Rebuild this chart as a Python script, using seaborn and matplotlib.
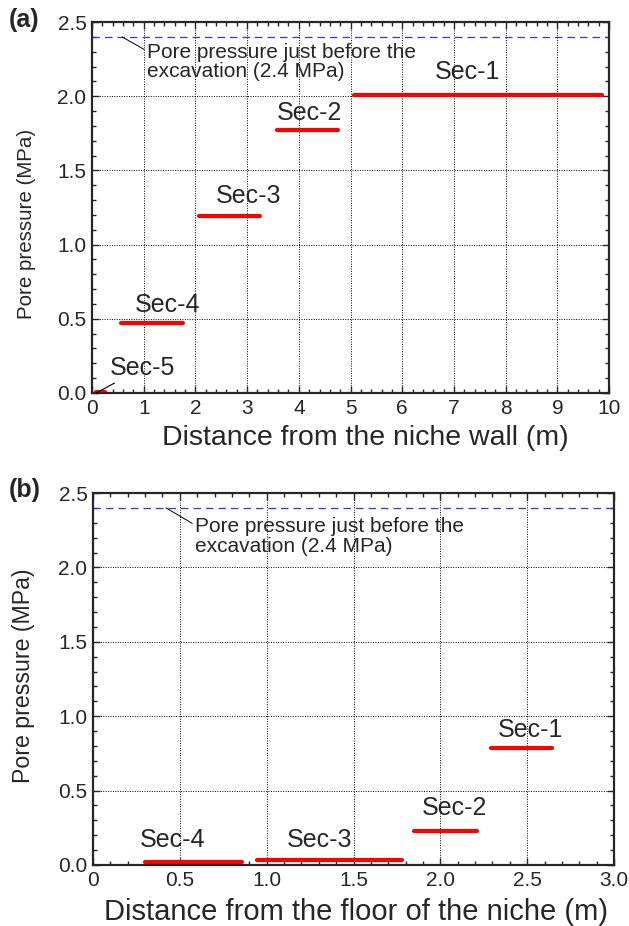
import numpy as np
import pandas as pd
import seaborn as sns
import matplotlib.pyplot as plt
from matplotlib.ticker import MultipleLocator

# Panel (a): distance from the niche wall
a_secs = ["Sec-1", "Sec-2", "Sec-3", "Sec-4", "Sec-5"]
a_start = [5.07, 3.58, 2.06, 0.56, 0.07]
a_end = [9.86, 4.76, 3.25, 1.75, 0.25]
a_press = [2.01, 1.77, 1.195, 0.47, 0.005]

# Panel (b): distance from the floor of the niche
b_secs = ["Sec-1", "Sec-2", "Sec-3", "Sec-4"]
b_start = [2.29, 1.85, 0.946, 0.30]
b_end = [2.645, 2.21, 1.78, 0.86]
b_press = [0.784, 0.229, 0.033, 0.018]

a_xticks = [0, 1, 2, 3, 4, 5, 6, 7, 8, 9, 10]
b_xticks = [0, 0.5, 1.0, 1.5, 2.0, 2.5, 3.0]
b_xlabels = ["0", "0.5", "1.0", "1.5", "2.0", "2.5", "3.0"]
y_ticks = [0, 0.5, 1.0, 1.5, 2.0, 2.5]

INITIAL_P = 2.4
NOTE = "Pore pressure just before the\nexcavation (2.4 MPa)"

sns.set_style("ticks")
plt.rcParams['font.family'] = ['Liberation Sans', 'DejaVu Sans']

TICK_FS = 15
SEC_FS = 18
NOTE_FS = 15


def seg_frame(secs, start, end, press):
    rows = []
    for s, x0, x1, p in zip(secs, start, end, press):
        rows.append({"sec": s, "x": x0, "p": p})
        rows.append({"sec": s, "x": x1, "p": p})
    return pd.DataFrame(rows)


def style_axes(ax, xmax, xticks, xlabels, xminor):
    ax.set_xlim(0, xmax)
    ax.set_ylim(0, 2.5)
    ax.set_xticks(xticks)
    ax.set_xticklabels(xlabels)
    ax.set_yticks(y_ticks)
    ax.set_yticklabels([f"{v:.1f}" for v in y_ticks])
    ax.xaxis.set_minor_locator(MultipleLocator(xminor))
    ax.yaxis.set_minor_locator(MultipleLocator(0.1))
    ax.tick_params(which='both', direction='in', top=True, right=True,
                   labelsize=TICK_FS, width=1.0)
    ax.tick_params(which='major', length=5, pad=4)
    ax.tick_params(which='minor', length=3)
    ax.grid(True, which='major', linestyle=(0, (1, 1.5)), color='k', linewidth=0.7)
    for sp in ax.spines.values():
        sp.set_linewidth(1.6)
        sp.set_visible(True)


def place_labels(ax, xlabel, xfs, xpos, ylabel_fs, ypos):
    ax.set_xlabel(xlabel, fontsize=xfs)
    ax.xaxis.set_label_coords(*xpos)
    ax.xaxis.label.set_verticalalignment('center')
    ax.set_ylabel("Pore pressure (MPa)", fontsize=ylabel_fs)
    ax.yaxis.set_label_coords(*ypos)
    ax.yaxis.label.set_verticalalignment('center')


fig = plt.figure(figsize=(6.29, 9.26), dpi=100)
ax_a = fig.add_axes([0.1463, 0.5756, 0.822, 0.4006])
ax_b = fig.add_axes([0.1479, 0.0659, 0.8283, 0.4017])

# ---- panel (a)
df_a = seg_frame(a_secs, a_start, a_end, a_press)
sns.lineplot(data=df_a, x="x", y="p", units="sec", estimator=None,
             color="#ff0000", linewidth=3, ax=ax_a, legend=False)
ax_a.axhline(INITIAL_P, color="#3333ff", linestyle=(0, (6, 4)), linewidth=0.9)
style_axes(ax_a, 10, a_xticks, [str(v) for v in a_xticks], 0.2)
place_labels(ax_a, "Distance from the niche wall (m)", 20.5, (0.528, -0.121),
             14.8, (-0.126, 0.457))

a_lab = {"Sec-1": (7.27, 2.16), "Sec-2": (4.2, 1.89), "Sec-3": (3.02, 1.33),
         "Sec-4": (1.47, 0.59)}
for s, (lx, ly) in a_lab.items():
    ax_a.text(lx, ly, s, fontsize=SEC_FS, ha='center', va='center')
ax_a.annotate("Sec-5", xy=(0.08, 0.0), xytext=(0.35, 0.17), fontsize=SEC_FS,
              ha='left', va='center',
              arrowprops=dict(arrowstyle='-', color='k', lw=0.8, shrinkA=0, shrinkB=0))
ax_a.annotate(NOTE, xy=(0.58, INITIAL_P), xytext=(1.07, 2.23), fontsize=NOTE_FS,
              ha='left', va='center', linespacing=1.05,
              arrowprops=dict(arrowstyle='-', color='k', lw=0.7, shrinkA=0, shrinkB=0,
                              relpos=(0, 0.78)))
fig.text(0.014, 0.978, "(a)", fontsize=18, fontweight='bold', ha='left', va='center')

# ---- panel (b)
df_b = seg_frame(b_secs, b_start, b_end, b_press)
sns.lineplot(data=df_b, x="x", y="p", units="sec", estimator=None,
             color="#ff0000", linewidth=3, ax=ax_b, legend=False)
ax_b.axhline(INITIAL_P, color="#3333ff", linestyle=(0, (6, 4)), linewidth=0.9)
style_axes(ax_b, 3.0, b_xticks, b_xlabels, 0.1)
place_labels(ax_b, "Distance from the floor of the niche (m)", 21, (0.505, -0.126),
             16.7, (-0.134, 0.509))

b_lab = {"Sec-1": (2.52, 0.91), "Sec-2": (2.08, 0.38), "Sec-3": (1.305, 0.17),
         "Sec-4": (0.46, 0.167)}
for s, (lx, ly) in b_lab.items():
    ax_b.text(lx, ly, s, fontsize=SEC_FS, ha='center', va='center')
ax_b.annotate(NOTE, xy=(0.42, INITIAL_P), xytext=(0.59, 2.21), fontsize=NOTE_FS,
              ha='left', va='center', linespacing=1.05,
              arrowprops=dict(arrowstyle='-', color='k', lw=0.7, shrinkA=0, shrinkB=0,
                              relpos=(0, 0.78)))
fig.text(0.014, 0.471, "(b)", fontsize=18, fontweight='bold', ha='left', va='center')

fig.savefig("out.png", dpi=100)
